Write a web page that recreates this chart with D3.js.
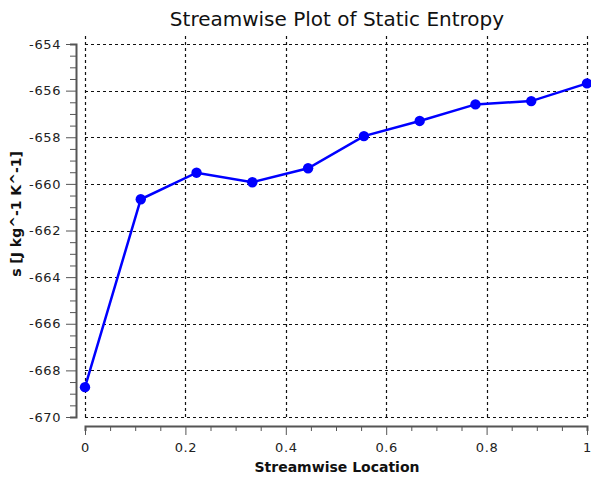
<!DOCTYPE html>
<html>
<head>
<meta charset="utf-8">
<script src="https://cdn.jsdelivr.net/npm/d3@7"></script>
<style>
  body { margin: 0; background: #fff; }
  text { font-family: "DejaVu Sans", Verdana, sans-serif; fill: #111; }
</style>
</head>
<body>
<div id="chart"></div>
<script>
// streamwise positions (fraction of passage) and static entropy values
var locations = [0, 0.1111, 0.2222, 0.3333, 0.4444, 0.5556, 0.6667, 0.7778, 0.8889, 1];
var entropy = [-668.72, -660.66, -659.52, -659.93, -659.33, -657.95, -657.30, -656.59, -656.45, -655.69];
var yTicks = [-670, -668, -666, -664, -662, -660, -658, -656, -654];
var xTicks = [0, 0.2, 0.4, 0.6, 0.8, 1];

var width = 591, height = 481;
var margin = {top: 44, right: 4, bottom: 64, left: 85};

var svg = d3.select("#chart").append("svg")
    .attr("width", width)
    .attr("height", height);

var x = d3.scaleLinear().domain([0, 1]).range([margin.left, width - margin.right]);
var y = d3.scaleLinear().domain([-670, -654]).range([height - margin.bottom, margin.top]);

// grid
var grid = svg.append("g")
    .attr("stroke", "#111")
    .attr("stroke-width", 1.2)
    .attr("stroke-dasharray", "3,3");

grid.selectAll("line.h").data(yTicks).enter().append("line")
    .attr("x1", x(0)).attr("x2", x(1))
    .attr("y1", function(d){ return Math.round(y(d)) + 0.5; })
    .attr("y2", function(d){ return Math.round(y(d)) + 0.5; });

grid.selectAll("line.v").data(xTicks).enter().append("line")
    .attr("y1", y(-654) - 8).attr("y2", y(-670))
    .attr("x1", function(d){ return Math.round(x(d)) + 0.5; })
    .attr("x2", function(d){ return Math.round(x(d)) + 0.5; });

// y axis
var yAxisX = 76;
var yAxis = d3.axisLeft(y)
    .tickValues(d3.range(-670, -653.9, 0.5))
    .tickSize(6)
    .tickFormat(function(d){ return d % 2 === 0 ? d : ""; });

var gy = svg.append("g")
    .attr("transform", "translate(" + yAxisX + ",0)")
    .call(yAxis);
gy.select(".domain").attr("stroke", "#555").attr("stroke-width", 2);
gy.selectAll(".tick line").attr("stroke", "#555").attr("stroke-width", 1)
    .attr("x2", function(d){ return d % 2 === 0 ? -10 : -6; });
gy.selectAll(".tick text")
    .attr("x", -15)
    .style("font-size", "13px")
    .style("letter-spacing", "0.6px")
    .style("fill", "#222");

// x axis
var xAxisY = 426;
var xAxis = d3.axisBottom(x)
    .tickValues(d3.range(0, 1.0001, 0.05))
    .tickSize(5)
    .tickFormat(function(d){
        var r = Math.round(d * 100);
        return r % 20 === 0 ? d3.format("~g")(r / 100) : "";
    });

var gx = svg.append("g")
    .attr("transform", "translate(0," + xAxisY + ")")
    .call(xAxis);
gx.select(".domain").attr("stroke", "#555").attr("stroke-width", 2);
gx.selectAll(".tick line").attr("stroke", "#555").attr("stroke-width", 1)
    .attr("y2", function(d){ return Math.round(d * 100) % 20 === 0 ? 9 : 5; });
gx.selectAll(".tick text")
    .attr("y", 17)
    .style("font-size", "13px")
    .style("letter-spacing", "0.6px")
    .style("fill", "#222");

// series line
var line = d3.line()
    .x(function(d, i){ return x(locations[i]); })
    .y(function(d){ return y(d); });

svg.append("path")
    .datum(entropy)
    .attr("d", line)
    .attr("fill", "none")
    .attr("stroke", "#0000ff")
    .attr("stroke-width", 2.5);

svg.selectAll("circle.pt").data(entropy).enter().append("circle")
    .attr("class", "pt")
    .attr("cx", function(d, i){ return x(locations[i]); })
    .attr("cy", function(d){ return y(d); })
    .attr("r", 5.2)
    .attr("fill", "#0000ff");

// titles
svg.append("text")
    .attr("x", 337).attr("y", 26)
    .attr("text-anchor", "middle")
    .style("font-size", "20px")
    .text("Streamwise Plot of Static Entropy");

svg.append("text")
    .attr("x", 337).attr("y", 472)
    .attr("text-anchor", "middle")
    .style("font-size", "14px")
    .style("font-weight", "bold")
    .text("Streamwise Location");

svg.append("text")
    .attr("transform", "translate(21,214) rotate(-90)")
    .attr("text-anchor", "middle")
    .style("font-size", "14px")
    .style("font-weight", "bold")
    .text("s [J kg^-1 K^-1]");
</script>
</body>
</html>
